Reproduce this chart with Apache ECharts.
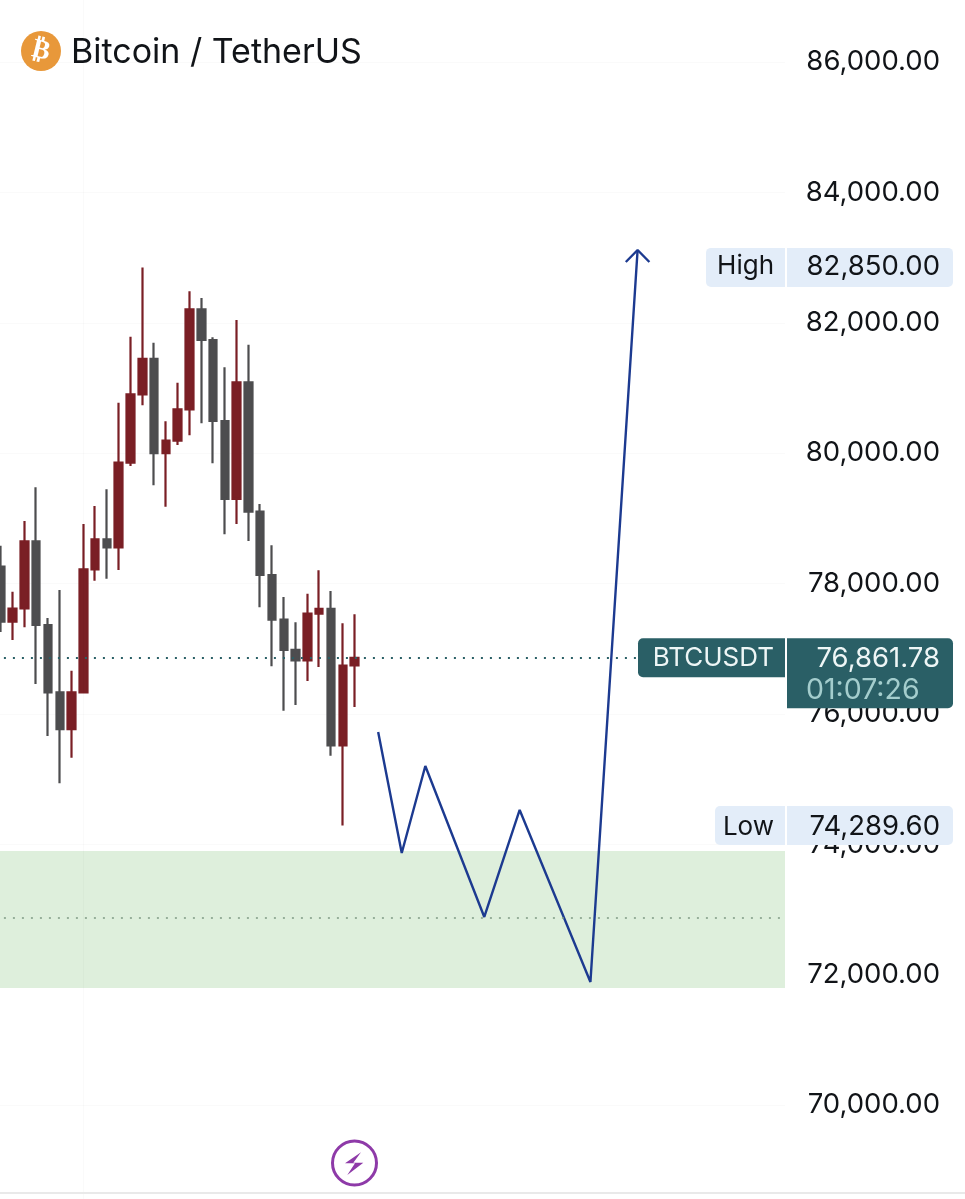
<!DOCTYPE html>
<html>
<head>
<meta charset="utf-8">
<style>html,body{margin:0;padding:0;background:#fff}#chart{width:965px;height:1199px}</style>
<script src="https://cdn.jsdelivr.net/npm/echarts@6/dist/echarts.min.js"></script>
</head>
<body>
<div id="chart"></div>
<script>
// BTCUSDT candles: open, close, low, high
const candles = [
  [78259, 77416, 77258, 78581],
  [77416, 77618, 77135, 77876],
  [77618, 78649, 77330, 78960],
  [78649, 77365, 76460, 79477],
  [77365, 76333, 75663, 77473],
  [76333, 75766, 74937, 77902],
  [75766, 76333, 75330, 76664],
  [76333, 78219, 76315, 78914],
  [78219, 78680, 78045, 79190],
  [78680, 78557, 78075, 79446],
  [78557, 79854, 78209, 80775],
  [79854, 80903, 79804, 81787],
  [80903, 81449, 80735, 82850],
  [81449, 79999, 79508, 81695],
  [79999, 80192, 79180, 80489],
  [80192, 80673, 80126, 81081],
  [80673, 82207, 80275, 82483],
  [82207, 81736, 80459, 82380],
  [81736, 80494, 79845, 81778],
  [80494, 79298, 78756, 81318],
  [79298, 81088, 78914, 82043],
  [81088, 79103, 78654, 81664],
  [79103, 78132, 77637, 79221],
  [78132, 77447, 76732, 78588],
  [77447, 76982, 76051, 77795],
  [76982, 76824, 76138, 77407],
  [76824, 77539, 76506, 77845],
  [77539, 77611, 76721, 78204],
  [77611, 75520, 75361, 77887],
  [75520, 76744, 74289.6, 77391],
  [76744, 76861.78, 76108, 77529]
];

// Bar slots, including the empty ones to the right of the last candle
const SLOT_COUNT = 67;
const categories = Array.from({ length: SLOT_COUNT }, (_, i) => 'bar ' + i);

// Projected move: [bar slot, price]
const projectionPath = [[32, 75724], [34, 73868], [36, 75203], [41, 72887], [44, 74528], [50, 71890], [54, 83117]];
const projectionArrow = [[53, 82933], [54, 83117], [55, 82933]];

// Demand zone and its midline
const zoneTop = 73899;
const zoneBottom = 71798;
const zoneMid = 72871;

const lastPrice = 76861.78;
const sessionHigh = 82850;
const sessionLow = 74289.6;
const countdown = '01:07:26';
const symbol = 'BTCUSDT';
const chartTitle = 'Bitcoin / TetherUS';

// Right-hand price tags
const tagNames = ['High', 'Low', symbol];
const tagPrices = [sessionHigh, sessionLow, lastPrice];

const FONT = 'Inter, "Noto Sans", sans-serif';
const RED = '#7a1f25';
const GREY = '#4d4d4f';
const TEAL = '#2a5f66';
const BLUE = '#1c3a90';
const INK = '#111418';

// Tag box left edges and text baseline nudges, by tag
const TAG_LEFT = [706, 715, 638];
const TAG_NUDGE = [-1, 1.5, 0.5];

const fmt = v => v.toLocaleString('en-US', { minimumFractionDigits: 2, maximumFractionDigits: 2 });

function renderTag(params, api) {
  const i = params.dataIndex;
  const dark = tagNames[i] === symbol;
  const y = api.coord([0, api.value(1)])[1];
  const top = y - 19.5;
  const rowH = 39;
  const fill = dark ? TEAL : '#e3edf9';
  const ink = dark ? '#eef6f6' : INK;
  const left = TAG_LEFT[i];
  const textY = y + TAG_NUDGE[i];
  const children = [
    { type: 'rect', shape: { x: left, y: top, width: 785 - left, height: rowH, r: [5, 0, 0, 5] }, style: { fill } },
    { type: 'rect', shape: { x: 787, y: top, width: 166, height: dark ? 70 : rowH, r: [0, 5, 5, 0] }, style: { fill } },
    { type: 'text', style: { x: 774, y: textY, text: tagNames[i], fill: ink, font: '400 26px ' + FONT, textAlign: 'right', textVerticalAlign: 'middle' } },
    { type: 'text', style: { x: 940, y: textY, text: fmt(tagPrices[i]), fill: ink, font: '400 27.5px ' + FONT, textAlign: 'right', textVerticalAlign: 'middle' } }
  ];
  if (dark) {
    children.push({ type: 'text', style: { x: 806, y: y + 33, text: countdown, fill: '#a4cdcd', font: '400 28.5px ' + FONT, textAlign: 'left', textVerticalAlign: 'middle' } });
  }
  return { type: 'group', children };
}

const chart = echarts.init(document.getElementById('chart'), null, { renderer: 'canvas' });
chart.setOption({
  animation: false,
  backgroundColor: '#ffffff',
  title: {
    text: chartTitle,
    left: 66,
    top: 31,
    textStyle: { fontFamily: FONT, fontSize: 34, fontWeight: 400, color: INK }
  },
  grid: { outerBoundsMode: 'none', containLabel: false, left: -5.09, right: 180, top: -68.4, height: 1304 },
  xAxis: {
    type: 'category',
    data: categories,
    boundaryGap: true,
    axisLine: { show: false },
    axisTick: { show: false },
    axisLabel: { show: false },
    splitLine: { show: false }
  },
  yAxis: {
    type: 'value',
    position: 'right',
    min: 68000,
    max: 88000,
    interval: 2000,
    axisLine: { show: false },
    axisTick: { show: false },
    splitLine: { show: true, lineStyle: { color: '#fafafa', width: 1 } },
    axisLabel: {
      align: 'right',
      margin: 155,
      padding: [0, 0, 4, 0],
      fontFamily: FONT,
      fontSize: 27.5,
      color: INK,
      formatter: v => (v < 70000 || v > 86000) ? '' : fmt(v)
    }
  },
  series: [
    {
      // Demand zone with dotted midline and the vertical session divider
      type: 'line',
      data: [],
      z: 1,
      silent: true,
      markArea: {
        silent: true,
        itemStyle: { color: '#deefdc', opacity: 1 },
        data: [[{ yAxis: zoneTop }, { yAxis: zoneBottom }]]
      },
      markLine: {
        silent: true,
        symbol: 'none',
        label: { show: false },
        data: [
          { yAxis: zoneMid, lineStyle: { color: '#7f9a84', type: [2, 7], width: 1.5 } },
          { yAxis: lastPrice, lineStyle: { color: TEAL, type: [2, 7], width: 2 } },
          { xAxis: 7, lineStyle: { color: 'rgba(0,0,0,0.02)', type: 'solid', width: 1 } }
        ]
      }
    },
    {
      type: 'candlestick',
      data: candles,
      z: 3,
      barWidth: 8,
      itemStyle: { color: RED, color0: GREY, borderColor: RED, borderColor0: GREY, borderWidth: 2.2 }
    },
    {
      type: 'line',
      data: projectionPath,
      z: 4,
      symbol: 'none',
      lineStyle: { color: BLUE, width: 2.4 }
    },
    {
      type: 'line',
      data: projectionArrow,
      z: 4,
      symbol: 'none',
      lineStyle: { color: BLUE, width: 2.4 }
    },
    {
      type: 'custom',
      data: tagPrices.map(p => [0, p]),
      z: 6,
      silent: true,
      clip: false,
      renderItem: renderTag
    }
  ],
  graphic: [
    // Bitcoin badge
    { type: 'circle', shape: { cx: 41, cy: 51, r: 20 }, style: { fill: '#e8983a' }, z: 10 },
    { type: 'text', x: 41, y: 51, rotation: -0.24, originX: 0, originY: 0, z: 11,
      style: { text: '₿', x: 0, y: 0, fill: '#fff', font: '700 27px "DejaVu Sans"', textAlign: 'center', textVerticalAlign: 'middle' } },
    // Lightning badge
    { type: 'circle', shape: { cx: 354.5, cy: 1163, r: 22 }, style: { fill: '#fff', stroke: '#8e3aa8', lineWidth: 3 }, z: 10 },
    { type: 'polygon', shape: { points: [[361, 1152.3], [345, 1163.3], [355, 1163.3], [347.3, 1175], [363.3, 1162.7], [353.3, 1162.7]] }, style: { fill: '#8e3aa8' }, z: 11 },
    // Footer rule
    { type: 'rect', shape: { x: 0, y: 1192, width: 965, height: 2 }, style: { fill: '#e9e9e9' }, z: 10 }
  ]
});
</script>
</body>
</html>
